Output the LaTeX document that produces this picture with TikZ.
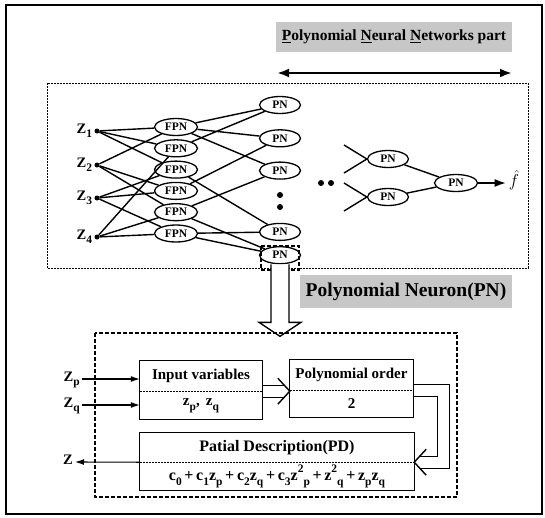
\documentclass[tikz,border=0pt]{standalone}
\usepackage{fontspec}
\setmainfont{Liberation Serif}
\usetikzlibrary{shapes.geometric, arrows.meta, positioning}
\newcommand{\lowidx}[1]{\raisebox{-0.32em}{\fontsize{11.5}{11.5}\selectfont #1}}
\newcommand{\highidx}[1]{\raisebox{0.45em}{\fontsize{11.5}{11.5}\selectfont #1}}
\tikzset{
  every node/.style = {font=\bfseries},
  outerframe/.style = {line width=1.6pt},
  netbox/.style     = {line width=0.9pt, dash pattern=on 2pt off 1pt},
  pnbox/.style      = {line width=1.6pt, dash pattern=on 4pt off 2pt},
  banner/.style     = {fill=black!22, inner sep=0pt},
  fpn/.style        = {ellipse, draw, line width=1.3pt, fill=white,
                       minimum width=43pt, minimum height=17pt, inner sep=0pt,
                       font=\bfseries\fontsize{11.5}{11.5}\selectfont},
  pn/.style         = {fpn, minimum width=41pt},
  dot/.style        = {circle, fill, inner sep=0pt, minimum size=5pt},
  zlab/.style       = {inner sep=2pt, font=\bfseries\fontsize{14.5}{14.5}\selectfont},
  wire/.style       = {line width=1.4pt},
  cell/.style       = {inner sep=0pt, font=\bfseries\fontsize{15}{15}\selectfont},
  cellbox/.style    = {line width=1.3pt},
  divider/.style    = {line width=0.8pt, dash pattern=on 2pt off 1pt},
  arrow/.style      = {line width=1.1pt, -{Latex[length=9pt,width=6pt]}},
  hollow/.style     = {double, double distance=11pt, line width=1.2pt},
  chevron/.style    = {line width=1.4pt, line join=miter},
  bigarrow/.style   = {line width=1.3pt, fill=white},
  sel/.style        = {line width=1.8pt, dash pattern=on 4pt off 2pt}
}

\begin{document}
\begin{tikzpicture}[x=1pt, y=-1pt, node distance=4pt]
  \useasboundingbox (0,0) rectangle (545,517);
  \draw[outerframe] (6,5) rectangle (542,514);

  \node[banner, minimum width=236pt, minimum height=30pt,
        font=\bfseries\fontsize{15.5}{15.5}\selectfont] (title) at (394,37)
        {\underline{P}olynomial \underline{N}eural \underline{N}etworks part};
  \coordinate (span1) at (277,73);
  \coordinate (span2) at (512,73);
  \draw[line width=2.6pt, {Latex[length=12pt,width=9pt]}-{Latex[length=12pt,width=9pt]}] (span1) -- (span2);

  \draw[netbox] (47,83) rectangle (528,268);

  \node[dot] (z1) at (97,131) {};
  \node[dot] (z2) at (97,165) {};
  \node[dot] (z3) at (97,198) {};
  \node[dot] (z4) at (97,237) {};
  \node[zlab, anchor=mid east] (lz1) at (z1.west) {Z\lowidx{1}};
  \node[zlab, anchor=mid east] (lz2) at (z2.west) {Z\lowidx{2}};
  \node[zlab, anchor=mid east] (lz3) at (z3.west) {Z\lowidx{3}};
  \node[zlab, anchor=mid east] (lz4) at (z4.west) {Z\lowidx{4}};

  \node[fpn]              (f1) at (176,127) {FPN};
  \node[fpn, below=3pt of f1] (f2) {FPN};
  \node[fpn, below=3pt of f2] (f3) {FPN};
  \node[fpn, below=3pt of f3] (f4) {FPN};
  \node[fpn, below=3pt of f4] (f5) {FPN};
  \node[fpn, below=3pt of f5] (f6) {FPN};

  \node[pn]                   (p1) at (280,105) {PN};
  \node[pn, below=15pt of p1] (p2) {PN};
  \node[pn, below=14pt of p2] (p3) {PN};
  \node[pn, below=43pt of p3] (p4) {PN};
  \node[pn, below=5pt of p4]  (p5) {PN};
  \node[dot, minimum size=6pt] (v1) at (280,195) {};
  \node[dot, minimum size=6pt] (v2) at (280,207) {};

  \foreach \a/\b in {z1/f1, z1/f2, z1/f3, z2/f1, z2/f4, z2/f5,
                     z3/f3, z3/f4, z3/f6, z4/f2, z4/f5, z4/f6}
    \draw[wire] (\a) -- (\b);
  \foreach \a/\b in {f1/p1, f2/p1, f1/p2, f4/p2, f1/p3,
                     f5/p3, f3/p4, f6/p4, f5/p5, f6/p5}
    \draw[wire] (\a) -- (\b);

  \node[dot, minimum size=6pt] (h1) at (321,183) {};
  \node[dot, minimum size=6pt] (h2) at (331,183) {};
  \node[pn] (pa) at (388,159) {PN};
  \node[pn] (pb) at (388,197) {PN};
  \node[pn, minimum width=43pt] (pf) at (456,183) {PN};
  \coordinate (ia1) at (344,145);
  \coordinate (ia2) at (344,173);
  \coordinate (ib1) at (344,183);
  \coordinate (ib2) at (344,211);
  \draw[wire] (ia1) -- (pa.west);
  \draw[wire] (ia2) -- (pa.west);
  \draw[wire] (ib1) -- (pb.west);
  \draw[wire] (ib2) -- (pb.west);
  \draw[wire] (pa) -- (pf);
  \draw[wire] (pb) -- (pf);
  \node[font=\fontsize{17}{17}\selectfont, inner sep=1pt] (fhat) at (514,180) {$\hat{f}$};
  \draw[wire, -{Latex[length=11pt,width=8pt]}, shorten >=2pt] (pf) -- (fhat.west |- pf);

  \draw[sel] ([shift={(-4pt,3pt)}]p5.north west) rectangle ([shift={(4pt,-8pt)}]p5.south east);
  \draw[bigarrow] ([xshift=-9pt]p5.south) -- ++(0,58) -- ++(-12,0) -- ++(21,14)
                  -- ++(21,-14) -- ++(-12,0) -- ([xshift=9pt]p5.south);

  \node[banner, minimum width=212pt, minimum height=33pt,
        font=\bfseries\fontsize{19.5}{19.5}\selectfont] (pnlab) at (406,291.5)
        {Polynomial Neuron(PN)};

  \draw[pnbox] (95,333) rectangle (457,497);

  \node[cell, minimum width=122pt, minimum height=30pt] (ivar) at (201,376) {Input variables};
  \node[cell, minimum width=122pt, minimum height=28pt, below=0pt of ivar] (ival)
        {z\lowidx{p}, \,z\lowidx{q}};
  \node[cell, minimum width=123pt, minimum height=30pt] (ord) at (351.5,375) {Polynomial order};
  \node[cell, minimum width=123pt, minimum height=27pt, below=0pt of ord] (oval) {2};
  \node[cell, minimum width=274pt, minimum height=29pt,
        font=\bfseries\fontsize{16}{16}\selectfont] (pdt) at (277,447.5) {Patial Description(PD)};
  \node[cell, minimum width=274pt, minimum height=28pt, below=0pt of pdt,
        font=\bfseries\fontsize{16}{16}\selectfont] (pdv)
        {c\lowidx{0}\,+\,c\lowidx{1}z\lowidx{p}\,+\,c\lowidx{2}z\lowidx{q}\,+\,c\lowidx{3}z\highidx{2}\lowidx{p}\,+\,z\highidx{2}\lowidx{q}\,+\,z\lowidx{p}z\lowidx{q}};

  \coordinate (tipa) at (ivar.south east -| ord.west);
  \draw[hollow, shorten >=5pt] (ivar.south east) -- (tipa);
  \draw[chevron] ([shift={(-12pt,13pt)}]tipa) -- (tipa) -- ([shift={(-12pt,-13pt)}]tipa);
  \coordinate (tipb) at (pdt.south east);
  \draw[hollow, shorten >=5pt] (ord.south east) -- ++(30,0) |- (tipb);
  \draw[chevron] ([shift={(12pt,13pt)}]tipb) -- (tipb) -- ([shift={(12pt,-13pt)}]tipb);

  \draw[cellbox] (ivar.north west) rectangle (ival.south east);
  \draw[divider] (ivar.south west) -- (ivar.south east);
  \draw[cellbox] (ord.north west) rectangle (oval.south east);
  \draw[divider] (ord.south west) -- (ord.south east);
  \draw[cellbox] (pdt.north west) rectangle (pdv.south east);
  \draw[divider] (pdt.south west) -- (pdt.south east);

  \node[zlab, anchor=mid east] (lzp) at (82,379) {Z\lowidx{p}};
  \node[zlab, anchor=mid east] (lzq) at (82,405) {Z\lowidx{q}};
  \node[zlab, anchor=mid east] (lz)  at (75,462) {Z};
  \draw[arrow] (lzp.mid east) -- (lzp.mid east -| ivar.west);
  \draw[arrow] (lzq.mid east) -- (lzq.mid east -| ivar.west);
  \draw[arrow] (pdt.south west) -- (lz.mid east);
\end{tikzpicture}
\end{document}
